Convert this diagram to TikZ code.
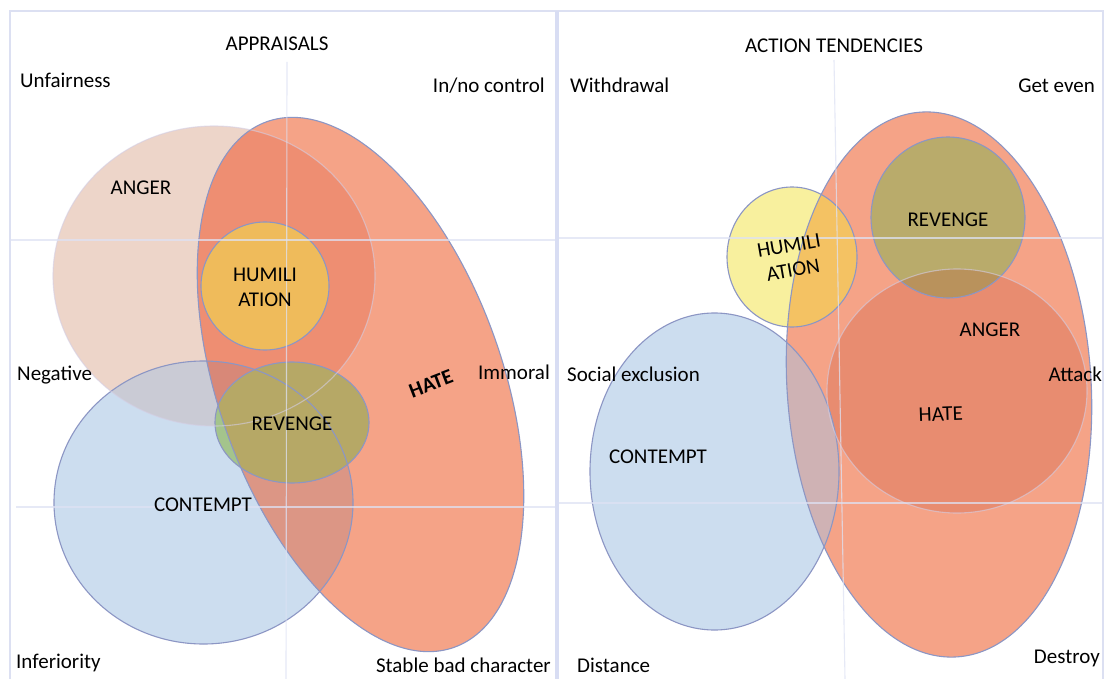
\documentclass[tikz,border=0pt]{standalone}
\usepackage{fontspec}
\setmainfont{Carlito}
\definecolor{cAng}{RGB}{237,213,201}
\definecolor{cHat}{RGB}{245,163,135}
\definecolor{cAH}{RGB}{238,142,114}
\definecolor{cCon}{RGB}{204,221,239}
\definecolor{cAC}{RGB}{202,203,213}
\definecolor{cHC}{RGB}{220,150,133}
\definecolor{cAHC}{RGB}{216,136,120}
\definecolor{cHum}{RGB}{239,187,91}
\definecolor{cRev}{RGB}{182,168,102}
\definecolor{cRevG}{RGB}{164,196,140}
\definecolor{cAngR}{RGB}{232,140,112}
\definecolor{cHCR}{RGB}{207,178,180}
\definecolor{cHumR}{RGB}{248,240,158}
\definecolor{cHumH}{RGB}{244,194,99}
\definecolor{cRevR}{RGB}{185,171,107}
\definecolor{cRevA}{RGB}{185,146,92}
\definecolor{cEdge}{RGB}{140,150,196}
\definecolor{cSoft}{RGB}{212,206,228}
\definecolor{cGrid}{RGB}{222,226,244}
\definecolor{cFrame}{RGB}{220,224,242}
\definecolor{cDiv}{RGB}{216,221,243}
\def\AngL{(214,276) ellipse [x radius=161pt, y radius=150pt]}
\def\HatL{[shift={(360.5,384.5)}, rotate=19.6] (0,0) ellipse [x radius=142pt, y radius=279pt]}
\def\ConL{(203.5,502.5) ellipse [x radius=149.5pt, y radius=141.5pt]}
\def\HumL{(265,286) circle [radius=64pt]}
\def\RevL{(292,422.5) ellipse [x radius=77pt, y radius=60.5pt]}
\def\HatR{[shift={(939,384.5)}, rotate=3.8] (0,0) ellipse [x radius=152pt, y radius=273pt]}
\def\AngR{(957,391) ellipse [x radius=130pt, y radius=122pt]}
\def\ConR{(714.5,471.5) ellipse [x radius=124.5pt, y radius=158.5pt]}
\def\HumR{(792,257) ellipse [x radius=65pt, y radius=70pt]}
\def\RevR{(948,217.5) ellipse [x radius=77pt, y radius=80.5pt]}
\tikzset{
  lbl/.style={inner sep=0pt, font=\fontsize{21}{25}\selectfont},
  edge/.style={draw=cEdge, line width=1.1pt},
  softedge/.style={draw=cSoft, draw opacity=0.6, line width=1.1pt},
  grid/.style={draw=cGrid, draw opacity=0.75, line width=1.1pt},
}
\begin{document}
\begin{tikzpicture}[x=1pt, y=-1pt]
\useasboundingbox[fill=white] (0,0) rectangle (1105,679);
% ---------- left panel fills ----------
\fill[cAng] \AngL;
\fill[cHat] \HatL;
\fill[cCon] \ConL;
\begin{scope}\clip \AngL; \fill[cAH] \HatL; \end{scope}
\begin{scope}\clip \AngL; \fill[cAC] \ConL; \end{scope}
\begin{scope}\clip \HatL; \fill[cHC] \ConL; \end{scope}
\begin{scope}\clip \AngL; \clip \HatL; \fill[cAHC] \ConL; \end{scope}
\fill[cHum] \HumL;
\fill[cRev] \RevL;
\begin{scope}\clip \RevL; \clip \ConL; \fill[cRevG] \ConL; \clip \HatL; \fill[cRev] \HatL; \end{scope}
% outlines
\path[edge] \HatL;
\path[edge] \ConL;
\path[edge] \HumL;
\path[edge] \RevL;
\path[softedge] \AngL;
% ---------- right panel fills ----------
\fill[cHat] \HatR;
\fill[cAngR] \AngR;
\fill[cCon] \ConR;
\begin{scope}\clip \HatR; \fill[cHCR] \ConR; \end{scope}
\fill[cHumR] \HumR;
\begin{scope}\clip \HatR; \fill[cHumH] \HumR; \end{scope}
\fill[cRevR] \RevR;
\begin{scope}\clip \AngR; \fill[cRevA] \RevR; \end{scope}
\path[edge] \HatR;
\path[edge] \ConR;
\path[edge] \HumR;
\path[edge] \RevR;
\path[softedge] \AngR;
% ---------- grid, frame, divider ----------
\draw[grid] (287,62) -- (286,679);
\draw[grid] (10,240) -- (556,240);
\draw[grid] (16,507) -- (556,507);
\draw[grid] (834,60) -- (845,679);
\draw[grid] (557,238) -- (1103,238);
\draw[grid] (557,503) -- (1103,503);
\draw[cFrame, line width=1.2pt] (10,679) -- (10,11) -- (1103,11) -- (1103,679);
\draw[cDiv, line width=3.5pt] (557,11) -- (557,679);
% ---------- left labels ----------
\node[lbl, anchor=base] (tA) at (277,51) {APPRAISALS};
\node[lbl, anchor=base west] (tUnf) at (20,88) {Unfairness};
\node[lbl, anchor=base east] (tCtl) at (545,93) {In/no control};
\node[lbl, anchor=base west] (tNeg) at (17,380) {Negative};
\node[lbl, anchor=base east] (tImm) at (550,379) {Immoral};
\node[lbl, anchor=base west] (tInf) at (16,668) {Inferiority};
\node[lbl, anchor=base east] (tSbc) at (551,672) {Stable bad character};
\node[lbl, anchor=base] (lAng) at (141,194) {ANGER};
\node[lbl, anchor=base] (lHum1) at (265,281) {HUMILI};
\node[lbl, anchor=base] (lHum2) at (265,306) {ATION};
\node[lbl, anchor=base] (lRev) at (292,430) {REVENGE};
\node[lbl, anchor=base] (lCon) at (203,511) {CONTEMPT};
\node[lbl, font=\fontsize{21}{25}\selectfont\bfseries, rotate=21] (lHat) at (431,384) {HATE};
% ---------- right labels ----------
\node[lbl, anchor=base] (tB) at (834,53) {ACTION TENDENCIES};
\node[lbl, anchor=base west] (tWit) at (570,93) {Withdrawal};
\node[lbl, anchor=base east] (tGet) at (1095,93) {Get even};
\node[lbl, anchor=base west] (tSoc) at (567,381) {Social exclusion};
\node[lbl, anchor=base east] (tAtt) at (1102,381) {Attack};
\node[lbl, anchor=base west] (tDis) at (577,672) {Distance};
\node[lbl, anchor=base east] (tDes) at (1100,663) {Destroy};
\node[lbl, anchor=base] (rRev) at (948,226) {REVENGE};
\node[lbl, anchor=base] (rAng) at (990,336) {ANGER};
\node[lbl, anchor=base, rotate=2] (rHat) at (941,421) {HATE};
\node[lbl, anchor=base] (rCon) at (658,463) {CONTEMPT};
\node[lbl, align=center, rotate=10] (rHum) at (791,258) {HUMILI\\ATION};
\end{tikzpicture}
\end{document}
